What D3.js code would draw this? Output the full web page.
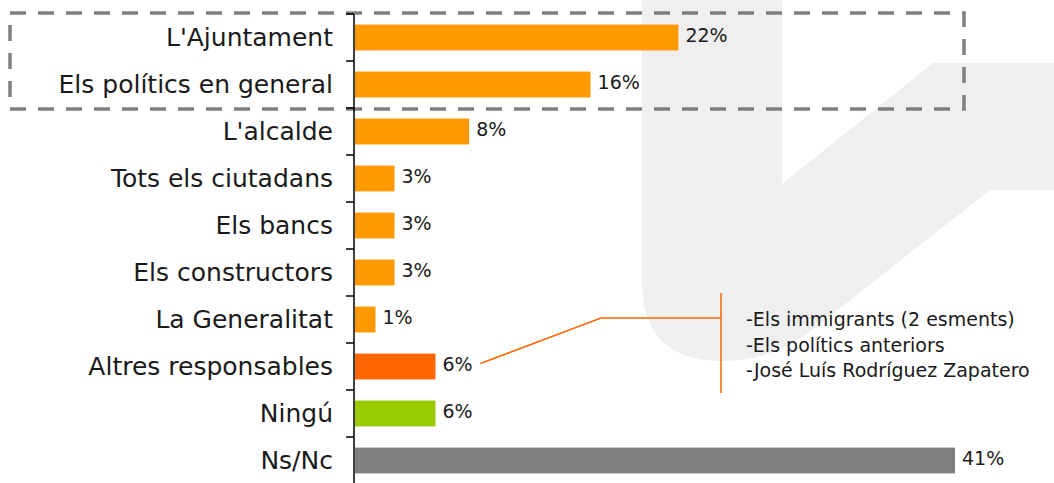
<!DOCTYPE html>
<html>
<head>
<meta charset="utf-8">
<script src="https://cdn.jsdelivr.net/npm/d3@7/dist/d3.min.js"></script>
<style>
  html, body { margin: 0; padding: 0; background: #fff; }
  svg { display: block; font-family: "DejaVu Sans", sans-serif; }
</style>
</head>
<body>
<script>
// data
var categories = ["L'Ajuntament", "Els polítics en general", "L'alcalde", "Tots els ciutadans",
  "Els bancs", "Els constructors", "La Generalitat", "Altres responsables", "Ningú", "Ns/Nc"];
var values = [22.1, 16.1, 7.8, 2.7, 2.7, 2.7, 1.4, 5.5, 5.5, 41];
var valueLabels = ["22%", "16%", "8%", "3%", "3%", "3%", "1%", "6%", "6%", "41%"];
var barColors = ["#ff9900", "#ff9900", "#ff9900", "#ff9900", "#ff9900", "#ff9900", "#ff9900",
  "#ff6600", "#99cc00", "#808080"];
var otherNames = ["-Els immigrants (2 esments)", "-Els polítics anteriors", "-José Luís Rodríguez Zapatero"];

var width = 1054, height = 483;

var svg = d3.select('body').append('svg').attr('width', width).attr('height', height);

// background watermark
svg.append('path')
  .attr('d', 'M642,0 L782,0 L782,184 L933,63 L1054,63 L1054,190 L990,190 L812,330 ' +
    'Q772,361 722,361 Q642,361 642,281 Z')
  .attr('fill', '#efefef');

var x = d3.scaleLinear().domain([0, 41]).range([355, 955]);
var y = d3.scaleBand().domain(categories).range([14, 484]).paddingInner(0.45).paddingOuter(0.225);
var step = y.step();
function bandTop(c) { return 14 + categories.indexOf(c) * step; }

// highlight box around the two top rows
var boxTop = bandTop(categories[0]) - 1;
var boxBottom = bandTop(categories[1]) + step + 1;
svg.append('rect')
  .attr('x', 10).attr('y', boxTop)
  .attr('width', 964 - 10).attr('height', boxBottom - boxTop)
  .attr('fill', 'none')
  .attr('stroke', '#808080')
  .attr('stroke-width', 3.5)
  .attr('stroke-dasharray', '16,12');

// bars
svg.selectAll('rect.bar')
  .data(values)
  .enter()
  .append('rect')
  .attr('class', 'bar')
  .attr('x', x(0))
  .attr('y', function (d, i) { return y(categories[i]); })
  .attr('width', function (d) { return x(d) - x(0); })
  .attr('height', y.bandwidth())
  .attr('fill', function (d, i) { return barColors[i]; });

// value labels
svg.selectAll('text.val')
  .data(values)
  .enter()
  .append('text')
  .attr('class', 'val')
  .attr('x', function (d) { return x(d) + 7; })
  .attr('y', function (d, i) { return y(categories[i]) + y.bandwidth() / 2 + 4; })
  .attr('font-size', 19)
  .attr('fill', '#1a1a1a')
  .text(function (d, i) { return valueLabels[i]; });

// category axis: labels at band centre, ticks at band edges
var axis = svg.append('g').attr('transform', 'translate(354,0)');
axis.call(d3.axisLeft(y).tickSize(0).tickPadding(21))
  .call(function (g) { g.select('.domain').remove(); });
axis.selectAll('text')
  .attr('font-size', 25)
  .attr('font-family', '"DejaVu Sans", sans-serif')
  .attr('fill', '#1a1a1a')
  .attr('dy', '0.34em');

var edges = d3.range(categories.length + 1).map(function (i) { return 14 + i * step; });
axis.selectAll('line.edge')
  .data(edges)
  .enter()
  .append('line')
  .attr('class', 'edge')
  .attr('x1', -8).attr('x2', 0)
  .attr('y1', function (d) { return d; }).attr('y2', function (d) { return d; })
  .attr('stroke', '#000').attr('stroke-width', 1.5);
axis.append('line')
  .attr('x1', 0).attr('x2', 0)
  .attr('y1', edges[0]).attr('y2', edges[edges.length - 1])
  .attr('stroke', '#000').attr('stroke-width', 1.5);

// callout for "Altres responsables"
var ai = categories.indexOf('Altres responsables');
var ax0 = x(values[ai]) + 45, ay0 = y(categories[ai]) + y.bandwidth() / 2 - 3;
var elbowX = 601, elbowY = 318, bracketX = 721;
svg.append('path')
  .attr('d', 'M' + ax0 + ',' + ay0 + ' L' + elbowX + ',' + elbowY + ' L' + bracketX + ',' + elbowY)
  .attr('fill', 'none').attr('stroke', '#ff6600').attr('stroke-width', 1.5);
svg.append('line')
  .attr('x1', bracketX).attr('x2', bracketX)
  .attr('y1', 293).attr('y2', 393)
  .attr('stroke', '#ff6600').attr('stroke-width', 1.5);

svg.selectAll('text.other')
  .data(otherNames)
  .enter()
  .append('text')
  .attr('class', 'other')
  .attr('x', 746)
  .attr('y', function (d, i) { return 326 + i * 25.5; })
  .attr('font-size', 19)
  .attr('fill', '#1a1a1a')
  .text(function (d) { return d; });
</script>
</body>
</html>
